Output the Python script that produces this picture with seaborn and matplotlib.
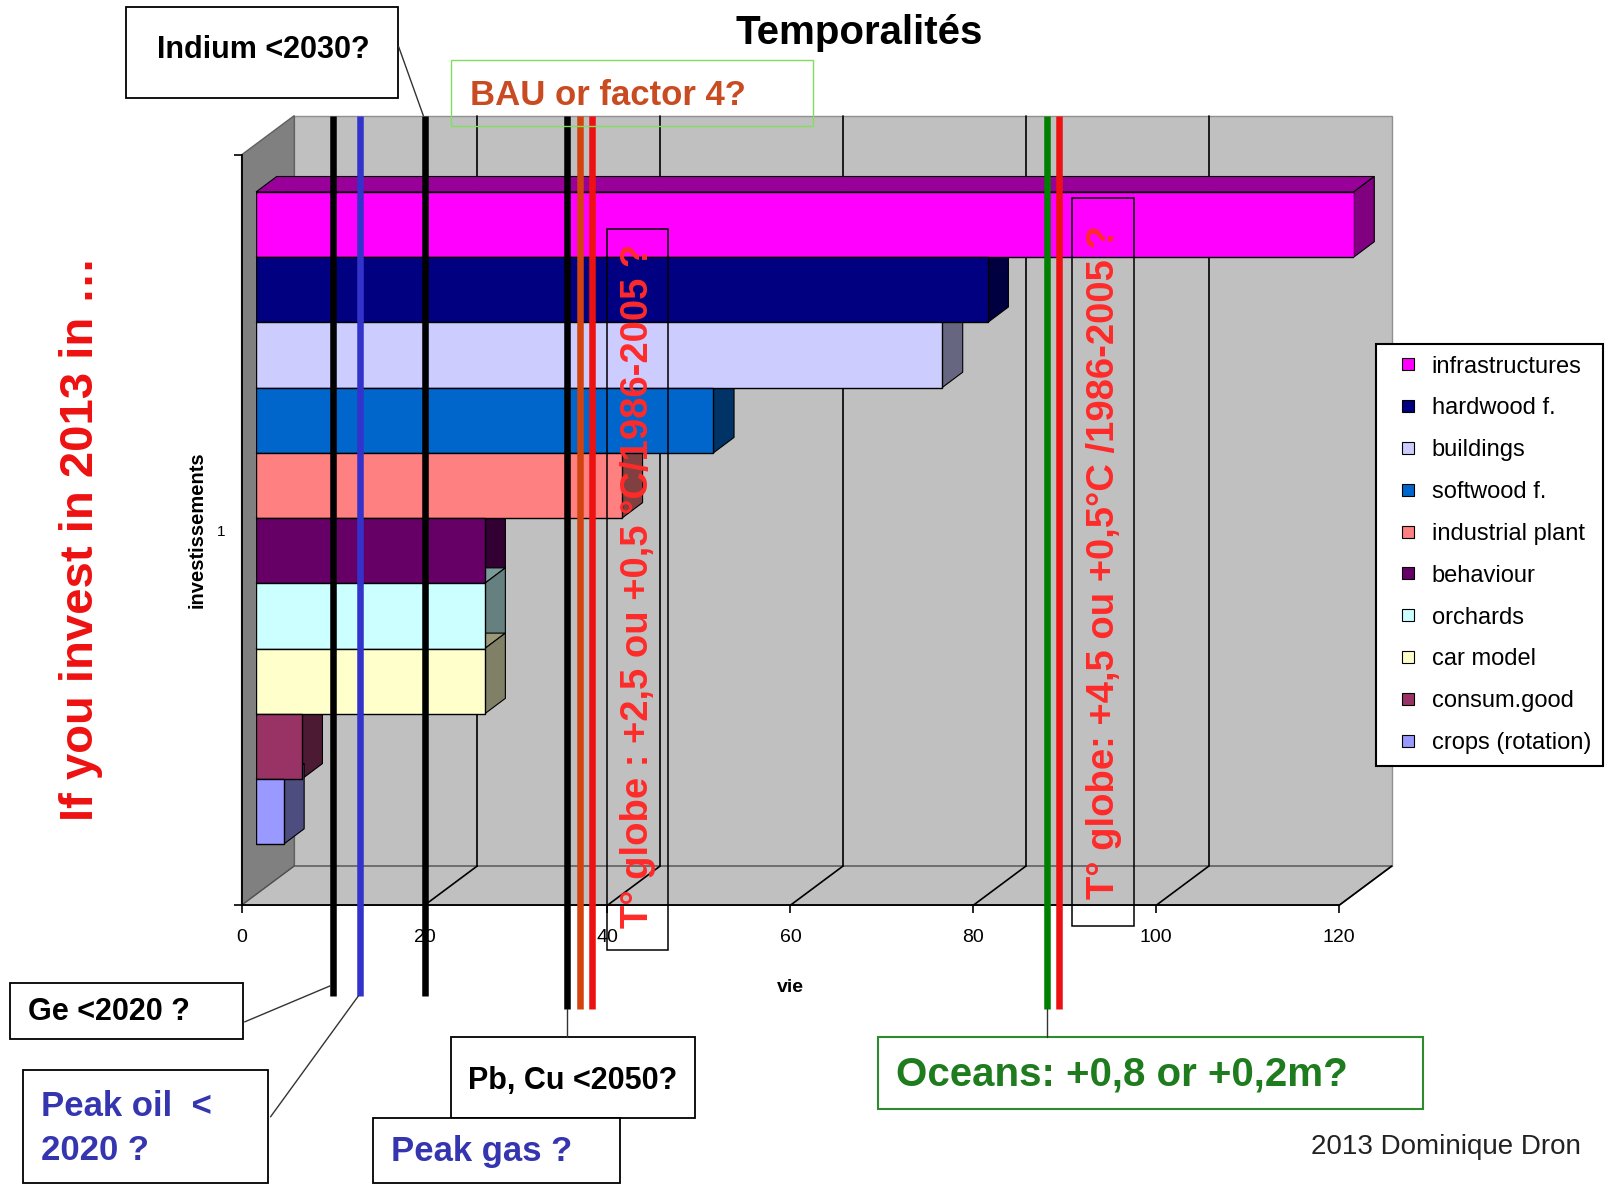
import numpy as np
import pandas as pd
import seaborn as sns
import matplotlib.pyplot as plt
from matplotlib.patches import Polygon, Rectangle
from matplotlib.lines import Line2D
from matplotlib import transforms
from matplotlib.colors import to_rgb

# Data
categories = ["infrastructures", "hardwood f.", "buildings", "softwood f.", "industrial plant",
              "behaviour", "orchards", "car model", "consum.good", "crops (rotation)"]
lifetimes = [120, 80, 75, 50, 40, 25, 25, 25, 5, 3]
bar_colors = ["#FF00FF", "#000080", "#CCCCFF", "#0066CC", "#FF8080",
              "#660066", "#CCFFFF", "#FFFFCC", "#993366", "#9999FF"]
x_ticks = [0, 20, 40, 60, 80, 100, 120]

# horizon markers, read on the front axis (years from 2013)
marker_pos = [10, 12.9, 20, 35.6, 37, 38.3, 88.1, 89.4]
marker_colors = ["black", "#3333CC", "black", "black", "#D2440F", "#EE1111", "#008000", "#EE1111"]

# layout helpers (reference frame 1568x1149)
W, H = 1568, 1149
def fx(px): return px / W
def fy(py): return 1 - py / H

sns.set_style("white")
plt.rcParams['font.family'] = ['Liberation Sans', 'DejaVu Sans']
plt.rcParams.update({"text.color": "black", "axes.labelcolor": "black",
                     "xtick.color": "black", "ytick.color": "black"})

fig = plt.figure(figsize=(16.19, 11.86), dpi=100)

# main axes = plane of the bars' front faces
y_top, y_bot = -1.234, 10.27
ax = fig.add_axes([fx(248), fy(866.6), 1063 / W, (866.6 - 139.6) / H])
df = pd.DataFrame({"cat": categories, "vie": lifetimes})
sns.barplot(data=df, x="vie", y="cat", hue="cat", palette=bar_colors, width=1.0,
            saturation=1, edgecolor="black", linewidth=1, legend=False, ax=ax, zorder=2)
bars = list(ax.patches)
ax.set_xlim(0, 120)
ax.set_ylim(y_bot, y_top)
ax.axis("off")

# pseudo 3D depth offsets, px -> data units
kx = 1063 / 120
ky = 63.2
def off(dx, dy):
    return dx / kx, -dy / ky

bdx, bdy = off(20, 15)      # bar depth
fdx, fdy = off(-14, -10.4)  # front plane
kdx, kdy = off(37, 27.6)    # back wall

# walls and floor
ax.add_patch(Polygon([(kdx, y_top + kdy), (120 + kdx, y_top + kdy), (120 + kdx, y_bot + kdy), (kdx, y_bot + kdy)],
                     fc="#C0C0C0", ec="#909090", lw=1, zorder=0.1, clip_on=False))
ax.add_patch(Polygon([(fdx, y_top + fdy), (kdx, y_top + kdy), (kdx, y_bot + kdy), (fdx, y_bot + fdy)],
                     fc="#808080", ec="#606060", lw=1, zorder=0.2, clip_on=False))
ax.add_patch(Polygon([(fdx, y_bot + fdy), (120 + fdx, y_bot + fdy), (120 + kdx, y_bot + kdy), (kdx, y_bot + kdy)],
                     fc="#C0C0C0", ec="#505050", lw=1, zorder=0.2, clip_on=False))
for v in x_ticks[1:]:
    if v < 120:
        ax.plot([v + kdx, v + kdx], [y_top + kdy, y_bot + kdy], color="black", lw=1.2, zorder=0.3, clip_on=False)
    ax.plot([v + fdx, v + kdx], [y_bot + fdy, y_bot + kdy], color="black", lw=1.2, zorder=0.3, clip_on=False)

# top and side faces of bars
for p in bars:
    x0, y0, w, h = p.get_x(), p.get_y(), p.get_width(), p.get_height()
    if w <= 0:
        continue
    rgb = np.array(to_rgb(p.get_facecolor()))
    ax.add_patch(Polygon([(x0, y0), (x0 + w, y0), (x0 + w + bdx, y0 + bdy), (x0 + bdx, y0 + bdy)],
                         fc=rgb * 0.6, ec="black", lw=0.8, zorder=1.5, clip_on=False))
    ax.add_patch(Polygon([(x0 + w, y0), (x0 + w + bdx, y0 + bdy), (x0 + w + bdx, y0 + h + bdy), (x0 + w, y0 + h)],
                         fc=rgb * 0.5, ec="black", lw=0.8, zorder=1.5, clip_on=False))

# front axes with ticks and labels
fax = fig.add_axes([fx(234), fy(877), 1063 / W, 727 / H])
fax.patch.set_visible(False)
fax.set_xlim(0, 120)
fax.set_ylim(0, 1)
for s in ["top", "right"]:
    fax.spines[s].set_visible(False)
for s in ["left", "bottom"]:
    fax.spines[s].set_color("black")
    fax.spines[s].set_linewidth(1.3)
fax.set_xticks(x_ticks)
fax.tick_params(axis="x", bottom=True, direction="out", length=6, width=1.2, labelsize=14, pad=11)
fax.set_yticks([0, 1])
fax.set_yticklabels(["", ""])
fax.set_yticks([0.5], minor=True)
fax.set_yticklabels(["1"], minor=True)
fax.tick_params(axis="y", which="major", left=True, direction="out", length=6, width=1.2)
fax.tick_params(axis="y", which="minor", left=True, length=0, labelsize=11, pad=12)
fax.set_xlabel("vie", fontsize=14, fontweight="bold", labelpad=24)
fax.set_ylabel("investissements", fontsize=14.5, fontweight="bold", labelpad=7)

# vertical horizon lines
trans = transforms.blended_transform_factory(fax.transData, fig.transFigure)
for i, (v, c) in enumerate(zip(marker_pos, marker_colors)):
    bottom = 965 if i < 3 else 978
    fig.add_artist(Line2D([v, v], [fy(112), fy(bottom)], transform=trans, color=c, lw=4.7,
                          solid_capstyle="butt", zorder=4))

# boxes, leaders and texts
def box(x0, y0, x1, y1, ec="black", lw=1.3, fill=True):
    fig.add_artist(Rectangle((fx(x0), fy(y1)), fx(x1) - fx(x0), fy(y0) - fy(y1), transform=fig.transFigure,
                             fc="white" if fill else "none", ec=ec, lw=lw, zorder=5))

def leader(x0, y0, x1, y1):
    fig.add_artist(Line2D([fx(x0), fx(x1)], [fy(y0), fy(y1)], transform=fig.transFigure,
                          color="#333333", lw=1, zorder=5))

def label(x, y, s, size, color="black", weight="bold", **kw):
    fig.text(fx(x), fy(y), s, fontsize=size, color=color, fontweight=weight, va="center", zorder=6, **kw)

fig.text(fx(832), fy(32), "Temporalités", fontsize=29, fontweight="bold", ha="center", va="center",
         color="black")

box(122, 7, 385, 95)
label(152, 48, "Indium <2030?", 22)
leader(386, 45, 410, 112)

box(437, 58, 787, 122, ec="#7FE05F", lw=1, fill=False)
label(455, 93, "BAU or factor 4?", 25, color="#C84B22")

box(10, 952, 235, 1007)
label(27, 980, "Ge <2020 ?", 22)
leader(237, 990, 320, 955)

box(22, 1037, 260, 1146)
label(40, 1072, "Peak oil  <", 25, color="#3535B0")
label(40, 1115, "2020 ?", 25, color="#3535B0")
leader(262, 1082, 347, 965)

box(437, 1005, 673, 1083)
label(453, 1047, "Pb, Cu <2050?", 22)
leader(549, 978, 549, 1005)

box(361, 1083, 600, 1146)
label(379, 1116, "Peak gas ?", 25, color="#3535B0")

box(850, 1005, 1378, 1074, ec="#2E8B2E", lw=1.5)
label(868, 1041, "Oceans: +0,8 or +0,2m?", 29, color="#1E7B1E")
leader(1014, 978, 1014, 1005)

box(588, 222, 647, 920, lw=1.1, fill=False)
fig.text(fx(618), fy(568), "T° globe : +2,5 ou +0,5 °C/1986-2005 ?", rotation=90, fontsize=27.5,
         fontweight="bold", color="#FF2A2A", ha="center", va="center", zorder=6)
box(1038, 192, 1098, 897, lw=1.1, fill=False)
fig.text(fx(1069), fy(545), "T° globe: +4,5 ou +0,5°C /1986-2005 ?", rotation=90, fontsize=27.5,
         fontweight="bold", color="#FF2A2A", ha="center", va="center", zorder=6)

fig.text(fx(78), fy(522), "If you invest in 2013 in …", rotation=90, fontsize=34, fontweight="bold",
         color="#EE1111", ha="center", va="center")

label(1270, 1111, "2013 Dominique Dron", 20, color="#222222", weight="normal")

# legend
handles = [Line2D([], [], marker="s", linestyle="none", markerfacecolor=c, markeredgecolor="black",
                  markeredgewidth=0.8, markersize=9) for c in bar_colors]
leg = fig.legend(handles, categories, loc="upper left", bbox_to_anchor=(fx(1333), fy(333)),
                 frameon=True, fancybox=False, edgecolor="black", framealpha=1, fontsize=17,
                 handlelength=1.7, handletextpad=0.15, labelspacing=0.84, borderpad=0.5, borderaxespad=0)
leg.get_frame().set_linewidth(1.5)

fig.savefig("out.png", dpi=100)
